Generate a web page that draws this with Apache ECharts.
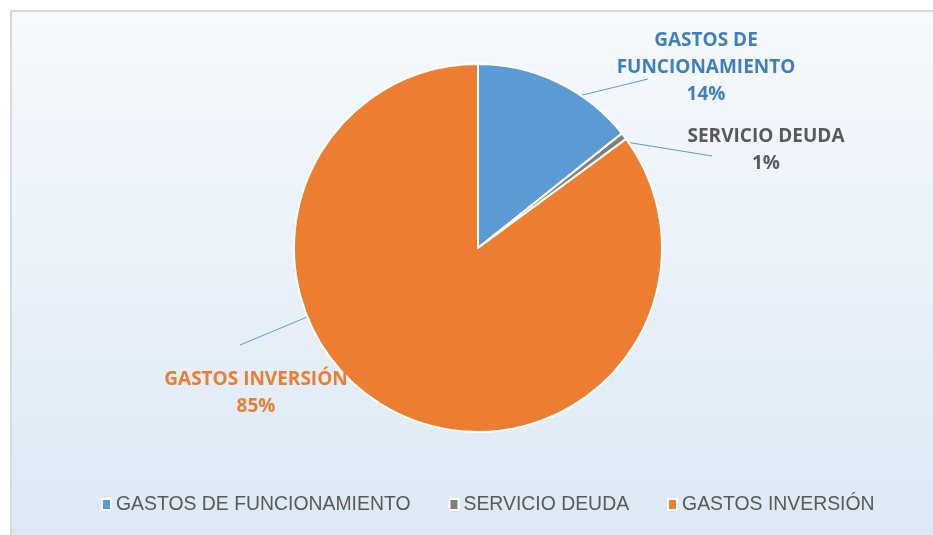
<!DOCTYPE html>
<html>
<head>
<meta charset="utf-8">
<script src="https://cdn.jsdelivr.net/npm/echarts@6/dist/echarts.min.js"></script>
<style>
  html, body { margin: 0; padding: 0; background: #fff; overflow: hidden; }
  #c1 { width: 933px; height: 535px; }
</style>
</head>
<body>
<div id="c1"></div>
<script>
// datos del grafico
var categorias = ['GASTOS DE FUNCIONAMIENTO', 'SERVICIO DEUDA', 'GASTOS INVERSIÓN']
var valores = [14.3, 0.6, 85.1]
var colores = ['#5B9BD5', '#7F7F7F', '#ED7D31']
var coloresEtiqueta = ['#3F7FC0', '#595959', '#ED7D31']

var centro = [478, 248]
var radio = 184
// posicion de etiquetas y lineas guia (px / grados)
var etiquetas = [
  { x: 706, y: 68, ang: 34, fin: [648, 79] },
  { x: 766, y: 150, ang: 55, fin: [712, 156] },
  { x: 256, y: 393, ang: 248, fin: [240, 345] }
]

var myChart = echarts.init(document.getElementById('c1'))

var puntoBorde = function (ang) {
  var r = ang * Math.PI / 180
  return [centro[0] + radio * Math.sin(r), centro[1] - radio * Math.cos(r)]
}

var option = {
  animation: false,
  color: colores,
  textStyle: { fontFamily: 'Open Sans, Liberation Sans, sans-serif' },
  graphic: [
    {
      type: 'rect',
      silent: true,
      z: -10,
      shape: { x: 11, y: 11, width: 1100, height: 700 },
      style: {
        fill: new echarts.graphic.LinearGradient(0, 0, 0, 1, [
          { offset: 0, color: '#F6F9FD' },
          { offset: 0.75, color: '#DCE9F5' },
          { offset: 1, color: '#DCE9F5' }
        ])
      }
    },
    {
      // solo borde izquierdo y superior
      type: 'polyline',
      silent: true,
      z: -9,
      shape: { points: [[11, 535], [11, 11], [933, 11]] },
      style: { stroke: '#D9D9D9', lineWidth: 2, fill: null }
    }
  ],
  legend: {
    bottom: 16,
    left: 96,
    icon: 'rect',
    itemWidth: 9,
    itemHeight: 11,
    itemGap: 38,
    textStyle: { color: '#595959', fontSize: 19.4, fontFamily: 'Liberation Sans, Arial, sans-serif' },
    data: categorias
  },
  series: [
    {
      type: 'pie',
      center: centro,
      radius: radio,
      startAngle: 90,
      clockwise: true,
      itemStyle: { borderColor: '#fff', borderWidth: 2 },
      label: {
        show: true,
        position: 'outside',
        fontWeight: 'bold',
        fontSize: 19,
        lineHeight: 27,
        align: 'center',
        fontFamily: 'Open Sans, sans-serif',
        formatter: function (p) {
          return p.name.replace('GASTOS DE ', 'GASTOS DE\n') + '\n' + p.percent + '%'
        }
      },
      percentPrecision: 0,
      labelLine: { show: true, lineStyle: { color: '#5B9BD5', width: 1 } },
      labelLayout: function (p) {
        var e = etiquetas[p.dataIndex]
        return {
          x: e.x,
          y: e.y,
          align: 'center',
          verticalAlign: 'middle',
          labelLinePoints: [puntoBorde(e.ang), e.fin, e.fin]
        }
      },
      data: categorias.map(function (c, i) {
        return { name: c, value: valores[i], label: { color: coloresEtiqueta[i] } }
      })
    }
  ]
}
option && myChart.setOption(option)
</script>
</body>
</html>
